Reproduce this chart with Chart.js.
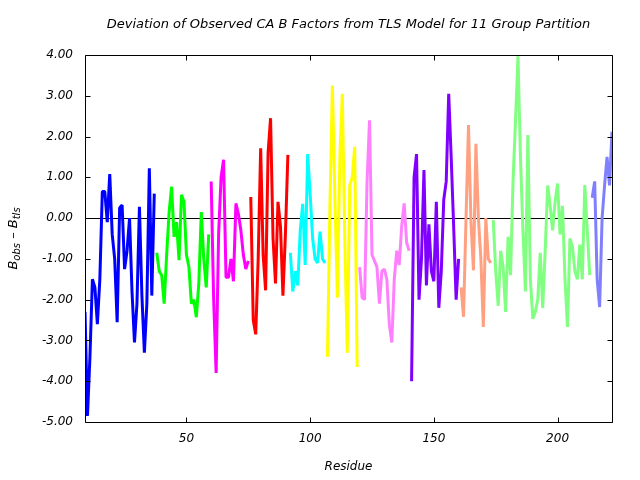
<!DOCTYPE html>
<html>
<head>
<meta charset="utf-8">
<script src="https://cdn.jsdelivr.net/npm/chart.js@4.4.0/dist/chart.umd.min.js"></script>
<style>
  html, body { margin: 0; padding: 0; background: #fff; }
  #wrap { width: 640px; height: 480px; }
</style>
</head>
<body>
<div id="wrap"><canvas id="bChart" width="640" height="480"></canvas></div>
<script>
// ==========================
// DATA
// ==========================
const groupStart = [9, 38, 60, 76, 92, 107, 120, 141, 161, 174, 214];

const group1 = [-2.3, -4.85, -3.4, -1.5, -1.7, -2.6, -1.5, 0.65, 0.65, -0.1, 1.08, -0.4, -1.0, -2.55, 0.25,
  0.32, -1.25, -0.8, 0.0, -1.8, -3.05, -2.1, 0.28, -1.9, -3.3, -2.1, 1.22, -1.9, 0.6];
const group2 = [-0.85, -1.3, -1.4, -2.1, -0.9, 0.15, 0.77, -0.46, -0.1, -1.03, 0.57, 0.4, -0.9, -1.2, -2.1,
  -2.0, -2.43, -1.6, 0.15, -1.0, -1.7, -0.4];
const group3 = [0.9, -2.0, -3.8, -0.4, 1.0, 1.43, -1.45, -1.45, -1.0, -1.55, 0.36, 0.1, -0.3, -0.9, -1.25, -1.05];
const group4 = [0.52, -2.5, -2.85, -1.0, 1.71, -0.9, -1.77, 1.6, 2.45, -0.5, -1.6, 0.4, -0.2, -1.9, -0.4, 1.55];
const group5 = [-0.85, -1.8, -1.3, -1.65, -0.3, 0.35, -1.15, 1.57, 0.6, -0.5, -1.0, -1.1, -0.33, -1.0, -1.1];
const group6 = [-3.4, 0.3, 3.25, 0.5, -1.95, 1.5, 3.05, -0.5, -3.3, 0.8, 1.0, 1.75, -3.65];
const group7 = [-1.2, -1.95, -2.0, 0.9, 2.4, -0.9, -1.05, -1.2, -2.1, -1.3, -1.25, -1.5, -2.6, -3.05, -1.5,
  -0.8, -1.15, -0.2, 0.36, -0.6, -0.8];
const group8 = [-4.0, 1.0, 1.57, -2.0, -1.0, 1.18, -1.65, -0.15, -1.3, -1.55, 0.4, -2.2, -1.3, 0.45, 0.9,
  3.05, 1.5, -0.2, -2.0, -1.0];
const group9 = [-1.7, -2.42, 0.0, 2.28, -0.1, -1.28, 1.82, 0.0, -1.0, -2.67, 0.0, -1.0, -1.1];
const group10 = [-0.05, -1.3, -2.15, -0.8, -1.2, -2.3, -0.46, -1.4, 0.9, 2.4, 3.97, 1.5, -0.3, -1.8, 2.04,
  -1.5, -2.47, -2.3, -2.0, -0.85, -2.2, -0.8, 0.8, 0.3, -0.3, 0.4, 0.85, -0.4, 0.3, -1.5,
  -2.67, -0.5, -0.7, -1.3, -1.5, -0.65, -1.5, 0.81, -0.3, -1.4];
const group11 = [0.5, 0.9, -1.5, -2.18, 0.0, 0.8, 1.5, 0.8, 2.12];

const groupValues = [group1, group2, group3, group4, group5, group6, group7, group8, group9, group10, group11];

const xTicks = [50, 100, 150, 200];
const yTicks = [-5, -4, -3, -2, -1, 0, 1, 2, 3, 4];

const titleText = "Deviation of Observed CA B Factors from TLS Model for 11 Group Partition";

// ==========================
// STYLE
// ==========================
const groupColors = ["#0000ff", "#00ff00", "#ff00ff", "#ff0000", "#00ffff", "#ffff00",
  "#ff80ff", "#8000ff", "#ffa080", "#80ff80", "#8080ff"];
const FONT = "DejaVu Sans";

// ==========================
// DATASETS
// ==========================
const datasets = groupValues.map((vals, g) => ({
  data: vals.map((v, i) => ({ x: groupStart[g] + i, y: v })),
  borderColor: groupColors[g],
  borderWidth: 3,
  borderJoinStyle: "bevel",
  borderCapStyle: "butt",
  pointRadius: 0,
  tension: 0,
  fill: false,
}));

// ==========================
// PLUGIN: FRAME, ZERO LINE, INWARD TICKS, TITLE
// ==========================
const framePlugin = {
  id: "frame",
  beforeDatasetsDraw(chart) {
    const { ctx, chartArea: a, scales: { y } } = chart;
    const y0 = Math.round(y.getPixelForValue(0)) + 0.5;
    ctx.save();
    ctx.strokeStyle = "#000";
    ctx.lineWidth = 1;
    ctx.beginPath();
    ctx.moveTo(a.left, y0);
    ctx.lineTo(a.right, y0);
    ctx.stroke();
    ctx.restore();
  },
  afterDatasetsDraw(chart) {
    const { ctx, chartArea: a, scales: { x, y } } = chart;
    const L = Math.round(a.left) + 0.5, R = Math.round(a.right) + 0.5;
    const T = Math.round(a.top) + 0.5, B = Math.round(a.bottom) + 0.5;
    ctx.save();
    ctx.strokeStyle = "#000";
    ctx.lineWidth = 1;
    ctx.beginPath();
    ctx.rect(L, T, R - L, B - T);
    xTicks.forEach(v => {
      const px = Math.round(x.getPixelForValue(v)) + 0.5;
      ctx.moveTo(px, B); ctx.lineTo(px, B - 5);
      ctx.moveTo(px, T); ctx.lineTo(px, T + 5);
    });
    yTicks.forEach(v => {
      const py = Math.round(y.getPixelForValue(v)) + 0.5;
      ctx.moveTo(L, py); ctx.lineTo(L + 5, py);
      ctx.moveTo(R, py); ctx.lineTo(R - 5, py);
    });
    ctx.stroke();

    // title, centred over the plot area
    ctx.fillStyle = "#000";
    ctx.font = `italic 13px "${FONT}"`;
    ctx.textAlign = "center";
    ctx.textBaseline = "middle";
    ctx.fillText(titleText, (a.left + a.right) / 2, 25);
    ctx.restore();
  },
};

// ==========================
// PLUGIN: Y LABEL WITH SUBSCRIPTS
// ==========================
const yLabelPlugin = {
  id: "ylabel",
  afterDraw(chart) {
    const { ctx, chartArea: a } = chart;
    const parts = [
      { t: "B", size: 13, dy: 0 },
      { t: "obs", size: 10, dy: 3 },
      { t: " \u2013 ", size: 13, dy: 0 },
      { t: "B", size: 13, dy: 0 },
      { t: "tls", size: 10, dy: 3 },
    ];
    ctx.save();
    let total = 0;
    parts.forEach(p => {
      ctx.font = `italic ${p.size}px "${FONT}"`;
      p.w = ctx.measureText(p.t).width;
      total += p.w;
    });
    ctx.translate(17, (a.top + a.bottom) / 2);
    ctx.rotate(-Math.PI / 2);
    ctx.fillStyle = "#000";
    ctx.textBaseline = "alphabetic";
    let cx = -total / 2;
    parts.forEach(p => {
      ctx.font = `italic ${p.size}px "${FONT}"`;
      ctx.fillText(p.t, cx, p.dy);
      cx += p.w;
    });
    ctx.restore();
  },
};

// ==========================
// CHART
// ==========================
const tickFont = { family: FONT, size: 12, style: "italic" };

new Chart(document.getElementById("bChart"), {
  type: "line",
  data: { datasets },
  options: {
    responsive: false,
    animation: false,
    events: [],
    layout: { padding: { left: 0, right: 28, top: 55, bottom: 0 } },
    plugins: {
      legend: { display: false },
      tooltip: { enabled: false },
      title: { display: false },
    },
    scales: {
      x: {
        type: "linear",
        min: 9,
        max: 222,
        afterFit: s => { s.height = 58; },
        afterBuildTicks: s => { s.ticks = xTicks.map(v => ({ value: v })); },
        ticks: { color: "#000", font: tickFont, padding: 10, maxRotation: 0 },
        grid: { display: false, drawTicks: false },
        border: { display: false },
        title: {
          display: true,
          text: "Residue",
          color: "#000",
          font: tickFont,
          padding: { top: 0, bottom: 6 },
        },
      },
      y: {
        min: -5,
        max: 4,
        afterFit: s => { s.width = 85; },
        afterBuildTicks: s => { s.ticks = yTicks.map(v => ({ value: v })); },
        ticks: {
          color: "#000",
          font: tickFont,
          padding: 12,
          callback: v => v.toFixed(2),
        },
        grid: { display: false, drawTicks: false },
        border: { display: false },
      },
    },
  },
  plugins: [framePlugin, yLabelPlugin],
});
</script>
</body>
</html>
